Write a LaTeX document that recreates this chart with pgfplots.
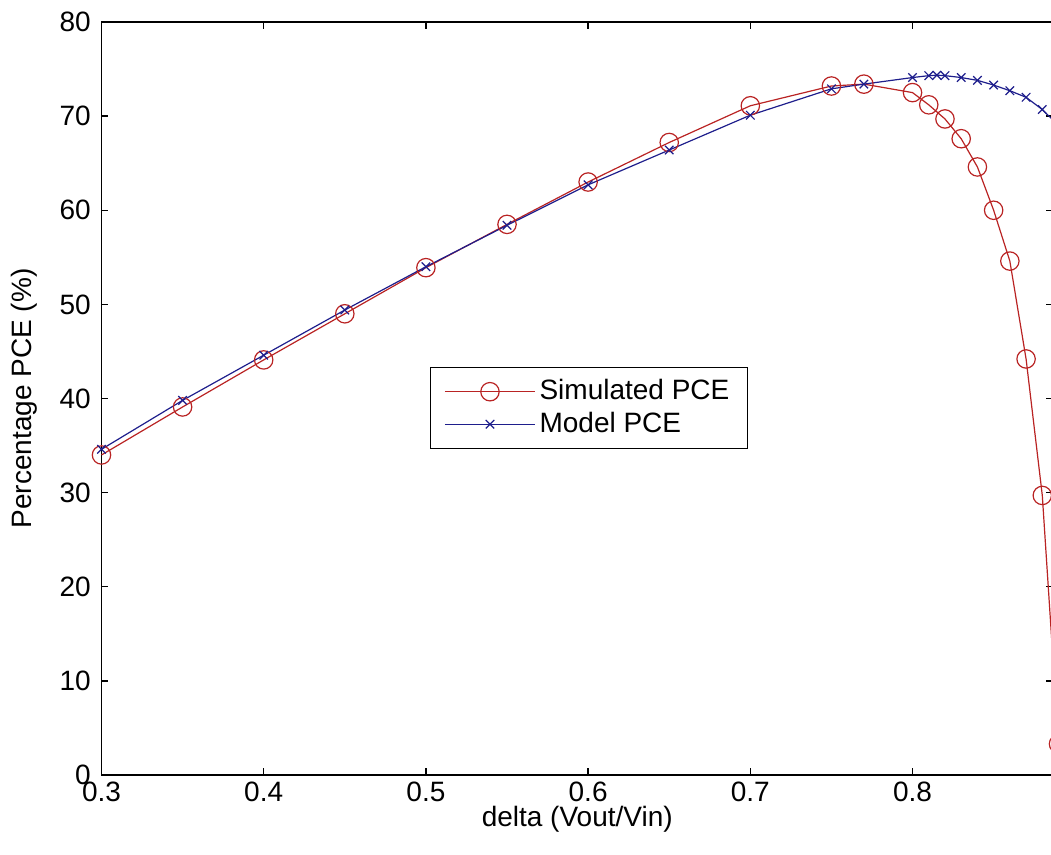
\documentclass[border=0pt]{standalone}
\usepackage{pgfplots}
\pgfplotsset{compat=1.18}
\usepackage{fontspec}
\setmainfont{Liberation Sans}
\definecolor{simred}{RGB}{185,35,35}
\definecolor{modblue}{RGB}{30,30,140}
\begin{document}
\fontsize{14pt}{16.8pt}\selectfont
\begin{tikzpicture}
\begin{axis}[name=ax, scale only axis, width=475.75pt, height=376.5pt,
  xmin=0.3, xmax=0.8866, ymin=0, ymax=80, clip=false,
  xtick={0.3,0.4,0.5,0.6,0.7,0.8}, ytick={0,10,20,30,40,50,60,70,80},
  xticklabels={0.3,0.4,0.5,0.6,0.7,0.8},
  tick align=inside, major tick length=3.5pt,
  axis line style={line width=0.7pt},
  every tick/.style={black, line width=0.7pt},
  /pgf/number format/assume math mode=true,
  tick label style={font=\fontsize{14pt}{16.8pt}\selectfont},
  xticklabel style={yshift=-1.5pt, inner ysep=2pt},
  yticklabel style={xshift=-0.5pt, inner ysep=1pt},
  xlabel={delta (Vout/Vin)},
  ylabel={Percentage PCE (\%)},
  label style={font=\fontsize{14pt}{16.8pt}\selectfont},
  xlabel style={at={(axis description cs:0.5,0)}, anchor=north, yshift=-14.5pt, inner ysep=1pt},
  ylabel style={at={(axis description cs:-0.0573,0.5)}, anchor=south},
  legend style={at={(0.345,0.542)}, anchor=north west, draw=black, line width=0.6pt,
    font=\fontsize{14pt}{16.8pt}\selectfont, inner xsep=7pt, inner ysep=4pt},
  legend cell align=left,
  legend image code/.code={
    \draw[mark repeat=2,mark phase=2,#1] plot coordinates {(0pt,0pt) (22.5pt,0pt) (45pt,0pt)};
  },
]
\addplot[simred, line width=0.6pt, mark=o, mark size=4.6pt, mark options={solid, line width=0.6pt}] coordinates {
(0.30,34.0) (0.35,39.1) (0.40,44.1) (0.45,49.0) (0.50,53.9) (0.55,58.5)
(0.60,63.0) (0.65,67.2) (0.70,71.1) (0.75,73.2) (0.77,73.4)
(0.80,72.5) (0.81,71.2) (0.82,69.7) (0.83,67.6) (0.84,64.6)
(0.85,60.0) (0.86,54.6) (0.87,44.2) (0.88,29.7) (0.89,3.3)
};
\addlegendentry{Simulated PCE}
\addplot[modblue, line width=0.6pt, mark=x, mark size=3pt, mark options={solid, line width=0.6pt}] coordinates {
(0.30,34.6) (0.35,39.8) (0.40,44.6) (0.45,49.4) (0.50,54.0) (0.55,58.4)
(0.60,62.7) (0.65,66.4) (0.70,70.1) (0.75,72.9) (0.77,73.4)
(0.80,74.1) (0.81,74.3) (0.815,74.35) (0.82,74.3) (0.83,74.1) (0.84,73.8)
(0.85,73.3) (0.86,72.7) (0.87,72.0) (0.88,70.7) (0.89,69.0)
};
\addlegendentry{Model PCE}
\end{axis}
\pgfresetboundingbox
\useasboundingbox ([xshift=-50.75pt,yshift=-40pt]ax.south west) rectangle ([xshift=474.75pt,yshift=387.5pt]ax.south west);
\end{tikzpicture}
\end{document}
